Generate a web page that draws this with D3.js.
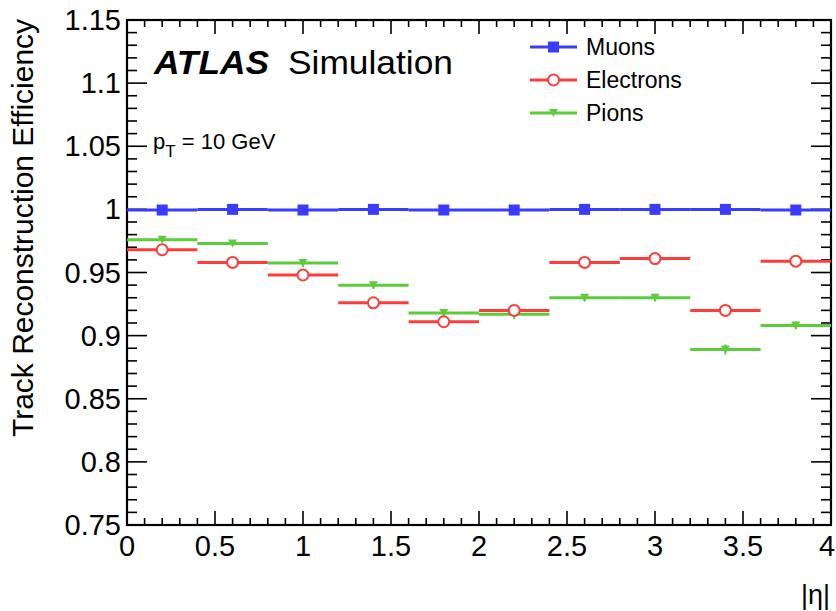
<!DOCTYPE html>
<html>
<head>
  <meta charset="utf-8">
  <script src="https://d3js.org/d3.v7.min.js"></script>
  <style>
    body { margin: 0; background: #fff; font-family: 'Liberation Sans', Arial, sans-serif; }
  </style>
</head>
<body>
  <div id="my_dataviz"></div>
  <script>
    // bins in |eta|
    var binLo = [0, 0.4, 0.8, 1.2, 1.6, 2.0, 2.4, 2.8, 3.2, 3.6];
    var binHi = [0.4, 0.8, 1.2, 1.6, 2.0, 2.4, 2.8, 3.2, 3.6, 4.0];

    var muons     = [0.9995, 1.0, 0.9995, 1.0, 0.9995, 0.9995, 1.0, 1.0, 1.0, 0.9995];
    var muonsErr  = [0.0005, 0.0005, 0.0005, 0.0005, 0.0005, 0.0005, 0.0005, 0.0005, 0.0005, 0.0005];
    var electrons = [0.968, 0.958, 0.948, 0.926, 0.911, 0.920, 0.958, 0.961, 0.920, 0.959];
    var electronsErr = [0.002, 0.002, 0.002, 0.003, 0.003, 0.003, 0.002, 0.002, 0.003, 0.002];
    var pions     = [0.976, 0.973, 0.9575, 0.940, 0.918, 0.917, 0.930, 0.930, 0.889, 0.908];
    var pionsErr  = [0.002, 0.002, 0.003, 0.003, 0.003, 0.004, 0.003, 0.003, 0.004, 0.003];

    var xTicks = [0, 0.5, 1, 1.5, 2, 2.5, 3, 3.5, 4];
    var yTicks = [0.75, 0.8, 0.85, 0.9, 0.95, 1, 1.05, 1.1, 1.15];

    var W = 836, H = 611;
    var pLeft = 127, pRight = 831, pTop = 20, pBottom = 525;

    var svg = d3.select("#my_dataviz").append("svg")
      .attr("width", W).attr("height", H);

    var x = d3.scaleLinear().domain([0, 4]).range([pLeft, pRight]);
    var y = d3.scaleLinear().domain([0.75, 1.15]).range([pBottom, pTop]);

    // ticks (ROOT style: major + minor, mirrored on top/right)
    var ax = svg.append("g").attr("stroke", "#000").attr("stroke-width", 1.6);
    d3.range(0, 41).forEach(function (k) {
      var v = k / 10;
      var len = (k % 5 === 0) ? 14 : 7;
      ax.append("line").attr("x1", x(v)).attr("x2", x(v)).attr("y1", pBottom).attr("y2", pBottom - len);
      ax.append("line").attr("x1", x(v)).attr("x2", x(v)).attr("y1", pTop).attr("y2", pTop + len);
    });
    d3.range(75, 116).forEach(function (k) {
      var v = k / 100;
      var len = (k % 5 === 0) ? 20 : 10;
      ax.append("line").attr("y1", y(v)).attr("y2", y(v)).attr("x1", pLeft).attr("x2", pLeft + len);
      ax.append("line").attr("y1", y(v)).attr("y2", y(v)).attr("x1", pRight).attr("x2", pRight - len);
    });
    svg.append("rect")
      .attr("x", pLeft).attr("y", pTop).attr("width", pRight - pLeft).attr("height", pBottom - pTop)
      .attr("fill", "none").attr("stroke", "#000").attr("stroke-width", 2.2);

    // tick labels
    svg.append("g").selectAll("text").data(xTicks).enter().append("text")
      .attr("x", function (d) { return d === 4 ? x(d) - 4 : x(d); })
      .attr("y", 556)
      .attr("text-anchor", "middle")
      .style("font-size", "29px")
      .text(function (d) { return d; });
    svg.append("g").selectAll("text").data(yTicks).enter().append("text")
      .attr("x", 121)
      .attr("y", function (d) { return y(d) + 10; })
      .attr("text-anchor", "end")
      .style("font-size", "29px")
      .text(function (d) { return d; });

    // axis titles
    svg.append("text")
      .attr("transform", "translate(33," + (pTop - 1) + ") rotate(-90)")
      .attr("text-anchor", "end")
      .style("font-size", "29px")
      .attr("textLength", 418).attr("lengthAdjust", "spacingAndGlyphs")
      .text("Track Reconstruction Efficiency");
    svg.append("text")
      .attr("x", 830).attr("y", 604)
      .attr("text-anchor", "end")
      .style("font-size", "27px")
      .text("|η|");

    // series
    var series = [
      { name: "Muons", vals: muons, err: muonsErr, color: "#3b3bff", marker: "square" },
      { name: "Electrons", vals: electrons, err: electronsErr, color: "#ff3b3b", marker: "circle" },
      { name: "Pions", vals: pions, err: pionsErr, color: "#5bcc3a", marker: "triangle" }
    ];

    function drawMarker(g, type, cx, cy, color) {
      if (type === "square") {
        g.append("rect").attr("x", cx - 5.5).attr("y", cy - 5.5).attr("width", 11).attr("height", 11).attr("fill", color);
      } else if (type === "circle") {
        g.append("circle").attr("cx", cx).attr("cy", cy).attr("r", 5.5)
          .attr("fill", "#fff").attr("stroke", color).attr("stroke-width", 2);
      } else {
        g.append("path")
          .attr("d", "M" + (cx - 4.5) + "," + (cy - 4) + "L" + (cx + 4.5) + "," + (cy - 4) + "L" + cx + "," + (cy + 4) + "Z")
          .attr("fill", color);
      }
    }

    // draw pions first, then electrons, muons on top
    [series[2], series[1], series[0]].forEach(function (s) {
      var g = svg.append("g");
      s.vals.forEach(function (v, i) {
        var cx = x((binLo[i] + binHi[i]) / 2);
        g.append("line")
          .attr("x1", x(binLo[i])).attr("x2", x(binHi[i]))
          .attr("y1", y(v)).attr("y2", y(v))
          .attr("stroke", s.color).attr("stroke-width", 3);
        g.append("line")
          .attr("x1", cx).attr("x2", cx)
          .attr("y1", y(v - s.err[i])).attr("y2", y(v + s.err[i]))
          .attr("stroke", s.color).attr("stroke-width", 2);
        drawMarker(g, s.marker, cx, y(v), s.color);
      });
    });

    // ATLAS label
    svg.append("text").attr("x", 154).attr("y", 74)
      .style("font-size", "33px").style("font-weight", "bold").style("font-style", "italic")
      .attr("textLength", 115).attr("lengthAdjust", "spacingAndGlyphs")
      .text("ATLAS");
    svg.append("text").attr("x", 288).attr("y", 74)
      .style("font-size", "33px")
      .attr("textLength", 165).attr("lengthAdjust", "spacingAndGlyphs")
      .text("Simulation");
    var pt = svg.append("text").attr("x", 153).attr("y", 149).style("font-size", "22px");
    pt.append("tspan").text("p");
    pt.append("tspan").attr("dy", 8).style("font-size", "17px").text("T");
    pt.append("tspan").attr("dy", -8).text(" = 10 GeV");

    // legend
    var leg = svg.append("g");
    series.forEach(function (s, i) {
      var ly = 47 + i * 33;
      leg.append("line").attr("x1", 530).attr("x2", 577).attr("y1", ly).attr("y2", ly)
        .attr("stroke", s.color).attr("stroke-width", 3);
      drawMarker(leg, s.marker, 553.5, ly, s.color);
      leg.append("text").attr("x", 586).attr("y", ly + 8)
        .style("font-size", "23px").text(s.name);
    });
  </script>
</body>
</html>
